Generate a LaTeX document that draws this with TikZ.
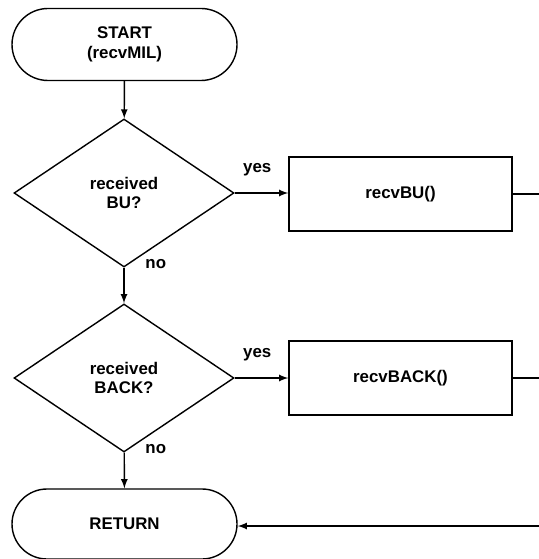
\documentclass[tikz,border=0pt]{standalone}
\usepackage{fontspec}
\setmainfont{Liberation Sans}
\usetikzlibrary{shapes.geometric}

\tikzset{
  terminal/.style={draw, rectangle, rounded corners=0.72cm,
    minimum width=4.5cm, minimum height=1.44cm, align=center},
  decision/.style={draw, diamond, inner sep=0pt,
    minimum width=4.4cm, minimum height=2.96cm, align=center},
  process/.style={draw, rectangle,
    minimum width=4.46cm, minimum height=1.48cm, align=center},
  lbl/.style={inner sep=1pt}
}

\begin{document}
\begin{tikzpicture}[line width=0.8pt,
  every node/.append style={font=\bfseries\fontsize{9.6}{11}\selectfont}]

\useasboundingbox (0,0) rectangle (10.78,-11.18);

\node[terminal]
(S)
at (2.49,-0.89)
{START\\(recvMIL)};

\node[decision]
(D1)
at (2.48,-3.86)
{received\\BU?};

\node[process]
(BU)
at (8.01,-3.88)
{recvBU()};

\node[decision]
(D2)
at (2.48,-7.56)
{received\\BACK?};

\node[process]
(BACK)
at (8.01,-7.56)
{recvBACK()};

\node[terminal, minimum height=1.4cm, rounded corners=0.7cm]
(R)
at (2.49,-10.48)
{RETURN};

% edges leaving the picture on the right
\coordinate (E1) at (10.78,-3.88);
\coordinate (E2) at (10.78,-7.56);
\coordinate (E3) at (10.78,-10.52);

\draw[-latex] (S) -- (D1);
\draw[-latex] (D1) -- (D2);
\draw[-latex] (D2) -- (R);
\draw[-latex] (D1.east) -- (D1.east -| BU.west);
\draw[-latex] (D2.east) -- (D2.east -| BACK.west);
\draw (BU.east) -- (E1);
\draw (BACK.east) -- (E2);
\draw[-latex] (E3) -- (E3 -| R.east);

\node[lbl, anchor=south west] (Y1) at ([xshift=0.12cm,yshift=0.3cm]D1.east) {yes};
\node[lbl, anchor=south west] (Y2) at ([xshift=0.12cm,yshift=0.3cm]D2.east) {yes};
\node[lbl, anchor=west] (N1) at ([xshift=0.38cm,yshift=0.08cm]D1.south) {no};
\node[lbl, anchor=west] (N2) at ([xshift=0.38cm,yshift=0.08cm]D2.south) {no};

\end{tikzpicture}
\end{document}
